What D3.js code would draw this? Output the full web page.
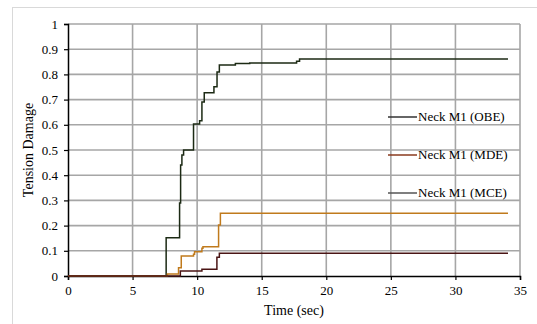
<!DOCTYPE html>
<html><head><meta charset="utf-8">
<script src="https://cdn.jsdelivr.net/npm/d3@7"></script>
<style>body{margin:0;background:#fff;} text{font-family:"Liberation Serif","Times New Roman","DejaVu Serif",serif !important;}</style>
</head><body><svg id="c" width="537" height="324"></svg>
<script>
const xTicks = [0,5,10,15,20,25,30,35];
const yTicks = [0,0.1,0.2,0.3,0.4,0.5,0.6,0.7,0.8,0.9,1];
const seriesNames = ["Neck M1 (OBE)","Neck M1 (MDE)","Neck M1 (MCE)"];
const obe = [[0,0],[7.6,0.152],[8.64,0.29],[8.72,0.44],[8.82,0.48],[8.95,0.5],[9.72,0.603],[10.19,0.616],[10.37,0.69],[10.55,0.727],[11.3,0.751],[11.54,0.81],[11.72,0.837],[12.96,0.843],[14.07,0.845],[17.7,0.852],[17.93,0.861],[34.07,0.861]];
const mde = [[0,0],[7.7,0.008],[8.56,0.033],[8.77,0.079],[9.72,0.086],[9.8,0.096],[10.37,0.11],[10.45,0.116],[11.66,0.202],[11.8,0.249],[34.07,0.249]];
const mce = [[0,0],[8.7,0.02],[10.37,0.027],[11.53,0.074],[11.72,0.09],[34.07,0.09]];
const seriesData = [obe, mde, mce];
const lineColors = ["#1c2a14","#c07a1c","#4a1414"];
const legendColors = ["#333333","#8a3a1e","#555555"];
const FONT = "'Liberation Serif','Times New Roman','DejaVu Serif',serif";

const svg = d3.select("#c");
const L=68,R=520,T=24,B=276;
const x = d3.scaleLinear().domain([0,35]).range([L,R]);
const y = d3.scaleLinear().domain([0,1]).range([B,T]);

svg.append("rect").attr("x",12.5).attr("y",7.5).attr("width",600).attr("height",400)
  .attr("fill","none").attr("stroke","#d9d9d9").attr("stroke-width",1);

// grid
svg.append("g").selectAll("line").data(yTicks.slice(1)).join("line")
  .attr("x1",L).attr("x2",R).attr("y1",d=>y(d)).attr("y2",d=>y(d))
  .attr("stroke","#a6a6a6").attr("stroke-width",1.6);
svg.append("g").selectAll("line").data(xTicks.slice(1)).join("line")
  .attr("x1",d=>x(d)).attr("x2",d=>x(d)).attr("y1",T).attr("y2",B)
  .attr("stroke","#a6a6a6").attr("stroke-width",1.6);

// axes
const xAxis = d3.axisBottom(x).tickValues(xTicks).tickSize(4).tickPadding(6).tickFormat(d3.format("d"));
const gx = svg.append("g").attr("transform",`translate(0,${B})`).call(xAxis);
const yAxis = d3.axisLeft(y).tickValues(yTicks).tickSize(4).tickPadding(6).tickFormat(d=>d===0?"0":d===1?"1":d3.format(".1f")(d));
const gy = svg.append("g").attr("transform",`translate(${L},0)`).call(yAxis);
[gx,gy].forEach(g=>{
  g.attr("font-family",FONT).attr("font-size",13);
  g.select(".domain").attr("stroke","#000").attr("stroke-width",1.5);
  g.selectAll(".tick line").attr("stroke","#000").attr("stroke-width",1.2);
  g.selectAll("text").attr("fill","#000");
});

// lines
const line = d3.line().x(d=>x(d[0])).y(d=>y(d[1])).curve(d3.curveStepAfter);
seriesData.forEach((s,i)=>{
  svg.append("path").datum(s).attr("d",line).attr("fill","none")
    .attr("stroke",lineColors[i]).attr("stroke-width",1.5);
});

// legend
const legY = [117,155,193];
seriesNames.forEach((n,i)=>{
  svg.append("line").attr("x1",388).attr("x2",417).attr("y1",legY[i]).attr("y2",legY[i])
    .attr("stroke",legendColors[i]).attr("stroke-width",1.5);
  svg.append("text").attr("x",418).attr("y",legY[i]+4).attr("font-family",FONT).attr("font-size",13).text(n);
});

// titles
svg.append("text").attr("x",(L+R)/2).attr("y",315).attr("text-anchor","middle").attr("font-family",FONT).attr("font-size",14).text("Time (sec)");
svg.append("text").attr("transform",`translate(33,${(T+B)/2}) rotate(-90)`).attr("text-anchor","middle").attr("font-family",FONT).attr("font-size",14).text("Tension Damage");
</script></body></html>
